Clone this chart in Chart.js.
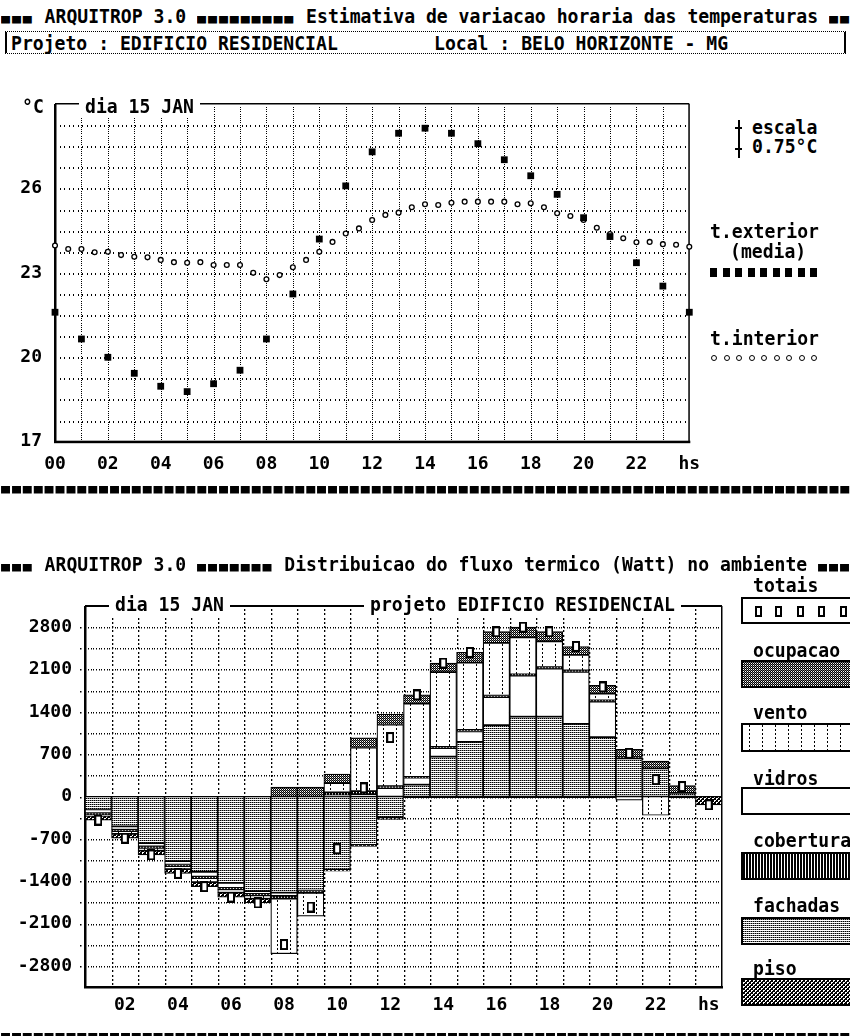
<!DOCTYPE html>
<html><head><meta charset="utf-8">
<script src="https://cdn.jsdelivr.net/npm/chart.js@4.4.1/dist/chart.umd.min.js"></script>
<style>
html,body{margin:0;padding:0;background:#fff;}
body{width:850px;height:1036px;position:relative;overflow:hidden;font-family:"DejaVu Sans Mono",monospace;font-weight:bold;color:#000;}
.t{position:absolute;white-space:pre;font-size:18.1px;line-height:20px;transform:scaleY(1.1);transform-origin:0 9.7px;}
.sq{display:inline-block;font-size:15px;letter-spacing:1.87px;transform:scaleY(0.78);transform-origin:0 90%;}
.w{background:#fff;padding:0 6px;}
canvas{position:absolute;left:0;}
.sw{position:absolute;left:741px;width:115px;border:2px solid #000;box-sizing:border-box;}
.mk{position:absolute;background:#000;}
</style></head><body>
<div id="box" style="position:absolute;left:5px;top:31px;width:841px;height:23px;border-top:1px dotted #000;border-bottom:1px dotted #000;border-left:2px solid #000;border-right:2px solid #000;box-sizing:border-box;"></div>
<canvas id="c1" width="720" height="410" style="top:80px"></canvas>
<canvas id="c2" width="735" height="476" style="top:560px"></canvas>
<div id="txt"></div>
<script>
// ---------- data: hourly temperatures (dia 15 JAN) ----------
const extHours = [0,1,2,3,4,5,6,7,8,9,10,11,12,13,14,15,16,17,18,19,20,21,22,23,24];
const extTemp  = [21.6,20.65,20.0,19.43,18.97,18.78,19.06,19.54,20.65,22.25,24.2,26.09,27.3,27.96,28.14,27.96,27.59,27.02,26.45,25.79,24.96,24.29,23.36,22.53,21.6];
const intHours = [0,0.5,1,1.5,2,2.5,3,3.5,4,4.5,5,5.5,6,6.5,7,7.5,8,8.5,9,9.5,10,10.5,11,11.5,12,12.5,13,13.5,14,14.5,15,15.5,16,16.5,17,17.5,18,18.5,19,19.5,20,20.5,21,21.5,22,22.5,23,23.5,24];
const intTemp  = [23.97,23.85,23.85,23.73,23.75,23.63,23.57,23.55,23.46,23.38,23.36,23.38,23.28,23.28,23.28,23.0,22.77,22.92,23.2,23.46,23.75,24.1,24.4,24.58,24.88,25.06,25.14,25.33,25.44,25.41,25.49,25.53,25.53,25.53,25.53,25.44,25.47,25.33,25.12,25.02,24.88,24.6,24.38,24.23,24.09,24.1,24.02,24.0,23.93];
const hourTickLabels = ['00','','02','','04','','06','','08','','10','','12','','14','','16','','18','','20','','22','','hs'];
const tempTickValues = [17,20,23,26];

// ---------- data: heat flux distribution (Watt) ----------
const barHours = ['01','02','03','04','05','06','07','08','09','10','11','12','13','14','15','16','17','18','19','20','21','22','23','24'];
const barTickLabels = ['','02','','04','','06','','08','','10','','12','','14','','16','','18','','20','','22','','hs'];
const fachadas  = [-215,-494,-770,-1070,-1245,-1430,-1565,-1590,-1555,-1210,-800,-340,195,660,905,1180,1320,1320,1200,980,630,465,60,0];
const vidros    = [-60,-55,-55,-55,-80,-80,-45,-55,0,20,40,140,115,140,170,465,680,795,860,590,-60,0,0,0];
const cobertura = [-25,-25,-25,-25,-25,-25,-25,-45,-40,50,50,30,15,20,25,25,20,25,25,20,20,0,0,0];
const vento     = [-20,-45,-45,-50,-65,-55,-55,-910,-385,150,720,1020,1210,1235,1115,870,610,425,255,110,0,-310,0,0];
const piso      = [-70,-71,-71,-72,-75,-73,-70,0,0,-25,-25,-40,0,0,0,0,0,0,0,0,0,0,0,-140];
const ocupacao  = [0,0,0,0,0,0,0,155,155,150,160,170,145,150,170,185,170,160,140,140,130,120,120,0];
const totais    = [-390,-690,-966,-1272,-1490,-1663,-1760,-2448,-1828,-865,143,975,1680,2207,2383,2724,2800,2724,2482,1812,714,280,165,-137];
const fluxTickValues = [2800,2100,1400,700,0,-700,-1400,-2100,-2800];

// ---------- text ----------
const SQ = '\u25A0';
const txt = document.getElementById('txt');
function T(s, x, yc, cls){ const d=document.createElement('div'); d.className='t'+(cls?' '+cls:''); d.textContent=s; d.style.left=x+'px'; d.style.top=(yc-9.7)+'px'; txt.appendChild(d); return d; }
function TS(parts, x, yc){ const d=document.createElement('div'); d.className='t'; d.style.left=x+'px'; d.style.top=(yc-9.7)+'px';
  parts.forEach(p=>{ if(typeof p==='number'){ const s=document.createElement('span'); s.className='sq'; s.textContent=SQ.repeat(p); d.appendChild(s);} else d.appendChild(document.createTextNode(p)); });
  txt.appendChild(d); return d; }
TS([3,' ARQUITROP 3.0 ',9,' Estimativa de variacao horaria das temperaturas ',3], 1, 16);
T('Projeto : EDIFICIO RESIDENCIAL', 11, 43);
T('Local : BELO HORIZONTE - MG', 434, 43);
T('\u00B0C', 22, 106);
T('dia 15 JAN', 79, 106, 'w');
T('escala', 752, 127);
T('0.75\u00B0C', 752, 146);
T('t.exterior', 710, 231);
T('(media)', 730, 251);
T('t.interior', 710, 338);
TS([78], 1, 486);
TS([3,' ARQUITROP 3.0 ',7,' Distribuicao do fluxo termico (Watt) no ambiente ',3], 1, 564);
T('dia 15 JAN', 109, 604, 'w');
T('projeto EDIFICIO RESIDENCIAL', 364, 604, 'w');
const legendItems = [['totais',585],['ocupacao',650],['vento',712],['vidros',778],['cobertura',840],['fachadas',905],['piso',968]];
legendItems.forEach(([s,y])=>T(s, 753, y));
TS([78], 1, 1033);
function R(x,y,w,h,cls){ const d=document.createElement('div'); d.className=cls||'mk'; d.style.left=x+'px'; d.style.top=y+'px'; d.style.width=w+'px'; d.style.height=h+'px'; txt.appendChild(d); return d; }
R(738,120,1.5,38); R(735,127,7,1.5); R(735,148,7,1.5);
for(let i=0;i<9;i++){ R(710+i*12.5,268,7,9); }
for(let i=0;i<9;i++){ const d=R(711+i*12.5,355,4,4); d.style.background='#fff'; d.style.border='1px solid #000'; d.style.borderRadius='50%'; }

// ---------- patterns ----------
function tile(w,h,fn){ const c=document.createElement('canvas'); c.width=w; c.height=h; const g=c.getContext('2d'); g.fillStyle='#fff'; g.fillRect(0,0,w,h); for(let y=0;y<h;y++)for(let x=0;x<w;x++){ const v=fn(x,y); if(v){ g.fillStyle=(v===true?'#000':v); g.fillRect(x,y,1,1);} } return c; }
const tiles = {
  fachadas: tile(2,2,(x,y)=>y===0?(x===0?true:'#888'):false),
  vidros: tile(1,1,()=>false),
  cobertura: tile(3,1,(x)=>x<2),
  vento: tile(13,4,(x,y)=>x===6&&y<2),
  piso: tile(4,4,(x,y)=>(((x>>1)+(y>>1))%2===0)||((x+y)%4===0)),
  ocupacao: tile(2,2,(x,y)=>(x+y)%2===0?true:(y===0?'#777':false))
};
const c2 = document.getElementById('c2');
const g2 = c2.getContext('2d');
const pat = {}; Object.keys(tiles).forEach(k=>pat[k]=g2.createPattern(tiles[k],'repeat'));
function ventoBg(ctx){
  const sc = ctx.chart.scales && ctx.chart.scales.x;
  if(!sc || ctx.dataIndex===undefined) return pat.vento;
  const p = g2.createPattern(tiles.vento,'repeat');
  const left = sc.getPixelForValue(ctx.dataIndex) - sc.width/barHours.length/2;
  p.setTransform(new DOMMatrix().translate(Math.round(left),0));
  return p;
}
const swatch = [['totais',597,624],['ocupacao',660,688],['vento',723,752],['vidros',787,815],['cobertura',852,880],['fachadas',917,945],['piso',978,1006]];
swatch.forEach(([k,y0,y1])=>{ const d=R(741,y0,115,y1-y0,'sw'); if(k==='totais'){d.style.background='#fff';} else { d.style.backgroundImage='url('+tiles[k].toDataURL()+')'; } });
[755,775,797,818,840].forEach(x=>{ const d=R(x,606,7,11); d.style.background='#fff'; d.style.border='2px solid #000'; d.style.boxSizing='border-box'; });

const mkC = document.createElement('canvas'); mkC.width=8; mkC.height=11;
{ const g=mkC.getContext('2d'); g.fillStyle='#000'; g.fillRect(0,0,8,11); g.fillStyle='#fff'; g.fillRect(2,2,4,7); }

const FONT = {family:'DejaVu Sans Mono', size:18, weight:'bold'};

const frame1 = {
  id:'frame1',
  beforeDatasetsDraw(chart){
    const {ctx, chartArea:a, scales:{x,y}} = chart;
    ctx.save(); ctx.fillStyle='#000';
    y.ticks.forEach(t=>{ if(t.value<=y.min||t.value>=y.max) return; const py=Math.round(y.getPixelForValue(t.value));
      for(let px=a.left+5; px<a.right-2; px+=4.43) ctx.fillRect(Math.round(px),py,1,2); });
    x.ticks.forEach(t=>{ if(t.value<=x.min||t.value>=x.max) return; const px=Math.round(x.getPixelForValue(t.value));
      for(let py=a.top+3; py<a.bottom-1; py+=2.2) ctx.fillRect(px,Math.round(py),1,1); });
    ctx.fillRect(a.left-1, a.top, 2.5, a.bottom-a.top+1);
    ctx.fillRect(a.left-1, a.bottom-1, a.right-a.left+2, 2.5);
    ctx.fillRect(a.right-1, a.top, 1.5, a.bottom-a.top);
    ctx.fillRect(a.left, a.top-1, a.right-a.left, 1.5);
    ctx.restore();
  }
};
new Chart(document.getElementById('c1'), {
  type:'scatter',
  data:{datasets:[
    {label:'t.exterior', data:extHours.map((h,i)=>({x:h,y:extTemp[i]})), pointStyle:'rect', pointRadius:4.8, backgroundColor:'#000', borderWidth:0, clip:false, order:0},
    {label:'t.interior', data:intHours.map((h,i)=>({x:h,y:intTemp[i]})), pointStyle:'circle', pointRadius:2.4, backgroundColor:'#fff', borderColor:'#000', borderWidth:1.3, clip:false, order:1}
  ]},
  options:{
    responsive:false, animation:false, devicePixelRatio:1, events:[],
    layout:{padding:{top:24,right:30.7,left:0,bottom:0}},
    plugins:{legend:{display:false},tooltip:{enabled:false}},
    scales:{
      x:{type:'linear',min:0,max:24,
        afterBuildTicks:s=>{ s.ticks = extHours.map(v=>({value:v})); },
        ticks:{autoSkip:false,maxRotation:0,padding:12,font:FONT,color:'#000',callback:v=>hourTickLabels[v]},
        grid:{display:false,drawTicks:false}, border:{display:false},
        afterFit:s=>{ s.height=48.3; }},
      y:{min:17,max:29,
        afterBuildTicks:s=>{ const a=[]; for(let k=0;k<=16;k++) a.push({value:17+0.75*k}); s.ticks=a; },
        ticks:{autoSkip:false,padding:13,font:FONT,color:'#000',callback:v=>tempTickValues.includes(v)?String(v):''},
        grid:{display:false,drawTicks:false}, border:{display:false},
        afterFit:s=>{ s.width=55; }}
    }
  },
  plugins:[frame1]
});

const frame2 = {
  id:'frame2',
  beforeDatasetsDraw(chart){
    const {ctx, chartArea:a, scales:{x,y}} = chart;
    ctx.save(); ctx.fillStyle='#000';
    y.ticks.forEach(t=>{ if(t.value<=y.min||t.value>=y.max) return; const py=Math.round(y.getPixelForValue(t.value));
      ctx.fillRect(a.left-5,py,1.5,1.5);
      for(let px=a.left+3; px<a.right-1; px+=2.66) ctx.fillRect(Math.round(px),py,1,1.5); });
    const n=barHours.length, bw=(a.right-a.left)/n;
    for(let i=1;i<n;i++){ const px=Math.round(a.left+i*bw);
      for(let py=a.top+3; py<a.bottom-1; py+=4.25) ctx.fillRect(px,Math.round(py),1.3,2); }
    ctx.fillRect(a.left-1, a.top, 2.5, a.bottom-a.top+1);
    ctx.fillRect(a.left-1, a.bottom-1, a.right-a.left+2, 2.5);
    ctx.fillRect(a.right-1, a.top, 1.5, a.bottom-a.top);
    ctx.fillRect(a.left, a.top-1, a.right-a.left, 2);
    const z=Math.round(y.getPixelForValue(0));
    ctx.fillRect(a.left, z-1, a.right-a.left, 2);
    ctx.restore();
  }
};
const barCommon = {borderColor:'#000', borderWidth:1.2, borderSkipped:false, barPercentage:1, categoryPercentage:1};
new Chart(c2, {
  type:'bar',
  data:{labels:barHours, datasets:[
    {label:'totais', type:'line', data:totais, stack:'tot', showLine:false, pointStyle:mkC, pointRadius:5, clip:false, order:-1},
    {label:'fachadas', data:fachadas, backgroundColor:pat.fachadas, ...barCommon},
    {label:'vidros', data:vidros, backgroundColor:pat.vidros, ...barCommon},
    {label:'cobertura', data:cobertura, backgroundColor:pat.cobertura, ...barCommon},
    {label:'vento', data:vento, backgroundColor:ventoBg, ...barCommon},
    {label:'piso', data:piso, backgroundColor:pat.piso, ...barCommon},
    {label:'ocupacao', data:ocupacao, backgroundColor:pat.ocupacao, ...barCommon}
  ]},
  options:{
    responsive:false, animation:false, devicePixelRatio:1, events:[],
    layout:{padding:{top:46,right:13,left:0,bottom:0}},
    plugins:{legend:{display:false},tooltip:{enabled:false}},
    scales:{
      x:{stacked:true,
        ticks:{autoSkip:false,maxRotation:0,padding:8,font:FONT,color:'#000',callback:(v,i)=>barTickLabels[i]},
        grid:{display:false,drawTicks:false}, border:{display:false},
        afterFit:s=>{ s.height=49; }},
      y:{stacked:true,min:-3150,max:3150,
        afterBuildTicks:s=>{ const a=[]; for(let k=-9;k<=9;k++) a.push({value:350*k}); s.ticks=a; },
        ticks:{autoSkip:false,padding:13,font:FONT,color:'#000',callback:v=>fluxTickValues.includes(v)?String(v):''},
        grid:{display:false,drawTicks:false}, border:{display:false},
        afterFit:s=>{ s.width=85; }}
    }
  },
  plugins:[frame2]
});
</script>
</body></html>
